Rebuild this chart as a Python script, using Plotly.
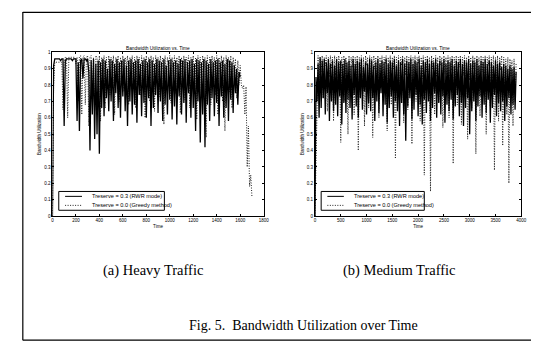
import plotly.graph_objects as go

W, H = 539, 349

# ---------------- data ----------------
heavy_step = 10
heavy_rwr = [
    0.00, 0.92, 0.96, 0.96, 0.96, 0.96, 0.96, 0.95, 0.96, 0.96,
    0.55, 0.95, 0.96, 0.96, 0.96, 0.96, 0.96, 0.95, 0.96, 0.96,
    0.96, 0.58, 0.94, 0.52, 0.95, 0.96, 0.84, 0.96, 0.96, 0.95,
    0.96, 0.88, 0.40, 0.95, 0.62, 0.96, 0.47, 0.93, 0.50, 0.95,
    0.38, 0.94, 0.66, 0.96, 0.61, 0.95, 0.72, 0.90, 0.64, 0.96,
    0.70, 0.95, 0.58, 0.93, 0.75, 0.96, 0.66, 0.94, 0.60, 0.95,
    0.73, 0.96, 0.64, 0.92, 0.55, 0.95, 0.70, 0.96, 0.62, 0.94,
    0.68, 0.95, 0.57, 0.96, 0.74, 0.93, 0.61, 0.95, 0.69, 0.96,
    0.60, 0.94, 0.72, 0.96, 0.55, 0.95, 0.66, 0.93, 0.74, 0.96,
    0.63, 0.95, 0.70, 0.94, 0.58, 0.96, 0.68, 0.92, 0.62, 0.95,
    0.71, 0.96, 0.59, 0.94, 0.67, 0.95, 0.56, 0.93, 0.73, 0.96,
    0.62, 0.95, 0.69, 0.96, 0.57, 0.94, 0.75, 0.95, 0.60, 0.96,
    0.66, 0.93, 0.52, 0.96, 0.70, 0.95, 0.45, 0.94, 0.62, 0.96,
    0.42, 0.95, 0.68, 0.93, 0.58, 0.96, 0.72, 0.94, 0.61, 0.95,
    0.69, 0.96, 0.55, 0.94, 0.73, 0.95, 0.60, 0.93, 0.66, 0.96,
    0.58, 0.95, 0.71, 0.94, 0.63, 0.92, 0.75, 0.90, 0.68, 0.88,
    0.85,
]
heavy_greedy = [
    0.00, 0.80, 0.94, 0.94, 0.94, 0.94, 0.94, 0.94, 0.94, 0.65,
    0.94, 0.97, 0.97, 0.60, 0.97, 0.97, 0.97, 0.97, 0.97, 0.97,
    0.93, 0.97, 0.70, 0.97, 0.98, 0.62, 0.97, 0.98, 0.68, 0.97,
    0.98, 0.55, 0.97, 0.98, 0.78, 0.97, 0.64, 0.98, 0.97, 0.72,
    0.98, 0.58, 0.97, 0.88, 0.98, 0.66, 0.97, 0.82, 0.98, 0.74,
    0.97, 0.86, 0.98, 0.62, 0.97, 0.90, 0.98, 0.70, 0.97, 0.84,
    0.98, 0.76, 0.97, 0.92, 0.98, 0.68, 0.97, 0.88, 0.98, 0.79,
    0.97, 0.66, 0.98, 0.90, 0.97, 0.74, 0.98, 0.85, 0.97, 0.60,
    0.98, 0.82, 0.97, 0.70, 0.98, 0.91, 0.97, 0.64, 0.98, 0.86,
    0.97, 0.73, 0.98, 0.89, 0.97, 0.56, 0.98, 0.80, 0.97, 0.92,
    0.98, 0.69, 0.97, 0.87, 0.98, 0.75, 0.97, 0.90, 0.98, 0.63,
    0.97, 0.84, 0.98, 0.71, 0.97, 0.93, 0.98, 0.66, 0.97, 0.88,
    0.98, 0.77, 0.97, 0.59, 0.98, 0.86, 0.97, 0.72, 0.98, 0.90,
    0.97, 0.48, 0.98, 0.83, 0.97, 0.68, 0.98, 0.91, 0.97, 0.74,
    0.98, 0.62, 0.97, 0.87, 0.98, 0.70, 0.97, 0.52, 0.98, 0.85,
    0.97, 0.76, 0.98, 0.66, 0.97, 0.89, 0.96, 0.72, 0.95, 0.80,
    0.92, 0.80, 0.78, 0.80, 0.62, 0.79, 0.30, 0.55, 0.18, 0.25,
    0.12,
]

medium_step = 20
medium_rwr = [
    0.00, 0.85, 0.70, 0.93, 0.60, 0.97, 0.66, 0.95, 0.72, 0.96,
    0.62, 0.94, 0.75, 0.96, 0.58, 0.93, 0.70, 0.95, 0.64, 0.92,
    0.68, 0.96, 0.61, 0.94, 0.73, 0.95, 0.56, 0.93, 0.69, 0.96,
    0.63, 0.94, 0.71, 0.95, 0.66, 0.92, 0.59, 0.96, 0.74, 0.93,
    0.67, 0.95, 0.60, 0.94, 0.72, 0.96, 0.65, 0.91, 0.76, 0.94,
    0.62, 0.93, 0.69, 0.96, 0.64, 0.95, 0.72, 0.92, 0.58, 0.94,
    0.70, 0.96, 0.63, 0.93, 0.75, 0.95, 0.61, 0.94, 0.68, 0.96,
    0.57, 0.93, 0.66, 0.95, 0.73, 0.94, 0.60, 0.96, 0.70, 0.92,
    0.64, 0.95, 0.55, 0.94, 0.69, 0.96, 0.62, 0.93, 0.46, 0.95,
    0.67, 0.94, 0.72, 0.96, 0.59, 0.93, 0.65, 0.95, 0.74, 0.94,
    0.61, 0.96, 0.68, 0.92, 0.56, 0.95, 0.71, 0.94, 0.63, 0.96,
    0.70, 0.93, 0.58, 0.95, 0.66, 0.94, 0.75, 0.96, 0.60, 0.93,
    0.69, 0.95, 0.62, 0.94, 0.73, 0.96, 0.57, 0.93, 0.68, 0.95,
    0.64, 0.94, 0.71, 0.96, 0.59, 0.92, 0.67, 0.95, 0.74, 0.94,
    0.61, 0.96, 0.69, 0.93, 0.55, 0.95, 0.66, 0.94, 0.72, 0.96,
    0.50, 0.93, 0.64, 0.95, 0.70, 0.94, 0.58, 0.96, 0.67, 0.92,
    0.73, 0.95, 0.60, 0.94, 0.68, 0.96, 0.63, 0.93, 0.71, 0.95,
    0.57, 0.94, 0.66, 0.92, 0.74, 0.95, 0.61, 0.93, 0.69, 0.94,
    0.64, 0.91, 0.70, 0.93, 0.58, 0.92, 0.67, 0.90, 0.72, 0.92,
    0.62, 0.90, 0.68, 0.91, 0.65, 0.88,
]
medium_greedy = [
    0.00, 0.30, 0.55, 0.98, 0.80, 0.97, 0.88, 0.98, 0.72, 0.97,
    0.92, 0.98, 0.64, 0.97, 0.85, 0.98, 0.90, 0.97, 0.58, 0.98,
    0.86, 0.97, 0.78, 0.98, 0.93, 0.45, 0.97, 0.82, 0.98, 0.70,
    0.97, 0.88, 0.50, 0.98, 0.76, 0.97, 0.91, 0.98, 0.62, 0.97,
    0.84, 0.98, 0.40, 0.97, 0.89, 0.98, 0.74, 0.97, 0.55, 0.98,
    0.92, 0.97, 0.66, 0.98, 0.83, 0.97, 0.48, 0.98, 0.90, 0.97,
    0.77, 0.98, 0.60, 0.97, 0.87, 0.98, 0.71, 0.97, 0.93, 0.98,
    0.52, 0.97, 0.85, 0.98, 0.68, 0.97, 0.90, 0.98, 0.35, 0.97,
    0.80, 0.98, 0.73, 0.97, 0.92, 0.98, 0.57, 0.97, 0.86, 0.98,
    0.65, 0.97, 0.89, 0.98, 0.44, 0.97, 0.81, 0.98, 0.70, 0.97,
    0.93, 0.98, 0.58, 0.97, 0.84, 0.98, 0.25, 0.97, 0.88, 0.98,
    0.76, 0.97, 0.15, 0.98, 0.90, 0.97, 0.62, 0.98, 0.85, 0.97,
    0.70, 0.98, 0.92, 0.97, 0.54, 0.98, 0.87, 0.97, 0.74, 0.98,
    0.60, 0.97, 0.89, 0.98, 0.32, 0.97, 0.82, 0.98, 0.68, 0.97,
    0.91, 0.98, 0.56, 0.97, 0.86, 0.98, 0.72, 0.97, 0.47, 0.98,
    0.83, 0.97, 0.66, 0.98, 0.90, 0.97, 0.38, 0.98, 0.79, 0.97,
    0.61, 0.98, 0.88, 0.97, 0.74, 0.98, 0.50, 0.97, 0.92, 0.98,
    0.67, 0.97, 0.84, 0.98, 0.28, 0.97, 0.80, 0.98, 0.58, 0.97,
    0.89, 0.98, 0.43, 0.97, 0.75, 0.96, 0.62, 0.97, 0.20, 0.96,
    0.85, 0.95, 0.55, 0.96, 0.70, 0.93,
]

heavy_xticks = [0, 200, 400, 600, 800, 1000, 1200, 1400, 1600, 1800]
medium_xticks = [0, 500, 1000, 1500, 2000, 2500, 3000, 3500, 4000]
y_ticks = [0, 0.1, 0.2, 0.3, 0.4, 0.5, 0.6, 0.7, 0.8, 0.9, 1]
y_ticktext = ["0", "0.1", "0.2", "0.3", "0.4", "0.5", "0.6", "0.7", "0.8", "0.9", "1"]

series_names = ["Treserve = 0.3 (RWR mode)", "Treserve = 0.0 (Greedy method)"]
plot_title = "Bandwidth Utilization vs. Time"
captions = ["(a) Heavy Traffic", "(b) Medium Traffic"]
fig_caption = "Fig. 5.  Bandwidth Utilization over Time"

# ---------------- figure ----------------
def px_x(p):
    return p / W

def px_y(p):
    return 1 - p / H

fig = go.Figure()

def times(vals, step):
    return [i * step for i in range(len(vals))]

greedy_line = dict(color="#222222", width=1, dash="1px,1.5px")
rwr_line = dict(color="black", width=1.3)

fig.add_trace(go.Scatter(x=times(heavy_greedy, heavy_step), y=heavy_greedy, mode="lines",
                         line=greedy_line, name=series_names[1], showlegend=False,
                         xaxis="x", yaxis="y"))
fig.add_trace(go.Scatter(x=times(heavy_rwr, heavy_step), y=heavy_rwr, mode="lines",
                         line=rwr_line, name=series_names[0], showlegend=False,
                         xaxis="x", yaxis="y"))
fig.add_trace(go.Scatter(x=times(medium_greedy, medium_step), y=medium_greedy, mode="lines",
                         line=greedy_line, name=series_names[1], showlegend=False,
                         xaxis="x2", yaxis="y2"))
fig.add_trace(go.Scatter(x=times(medium_rwr, medium_step), y=medium_rwr, mode="lines",
                         line=rwr_line, name=series_names[0], showlegend=False,
                         xaxis="x2", yaxis="y2"))

tickfont = dict(family="Liberation Sans, Arial", size=4.5, color="black")
common_ax = dict(showline=True, linecolor="black", linewidth=1, mirror="ticks",
                 ticks="inside", ticklen=2, tickcolor="black", tickwidth=0.8,
                 showgrid=False, zeroline=False, tickfont=tickfont)

ydom = [px_y(209), px_y(43)]
fig.update_layout(
    width=W, height=H,
    margin=dict(l=0, r=0, t=0, b=0),
    paper_bgcolor="white", plot_bgcolor="white",
    xaxis=dict(domain=[px_x(44), px_x(258)], range=[0, 1800], tickvals=heavy_xticks,
               anchor="y", title=dict(text="Time", font=tickfont, standoff=2), **common_ax),
    yaxis=dict(domain=ydom, range=[0, 1], tickvals=y_ticks, ticktext=y_ticktext,
               anchor="x", title=dict(text="Bandwidth Utilization", font=tickfont, standoff=2),
               **common_ax),
    xaxis2=dict(domain=[px_x(310), px_x(519)], range=[0, 4000], tickvals=medium_xticks,
                anchor="y2", title=dict(text="Time", font=tickfont, standoff=2), **common_ax),
    yaxis2=dict(domain=ydom, range=[0, 1], tickvals=y_ticks, ticktext=y_ticktext,
                anchor="x2", title=dict(text="Bandwidth Utilization", font=tickfont, standoff=2),
                **common_ax),
)

annotations = []
shapes = []
# subplot titles
for xr in ["x", "x2"]:
    annotations.append(dict(text=plot_title, xref=f"{xr} domain", yref="paper",
                            x=0.5, y=px_y(39), xanchor="center", yanchor="middle",
                            showarrow=False, font=dict(family="Liberation Sans, Arial", size=4.8, color="black")))

# manual legends (box, line samples, labels)
legend_font = dict(family="Liberation Sans, Arial", size=5.6, color="black")
for xr, yr in [("x", "y"), ("x2", "y2")]:
    shapes.append(dict(type="rect", xref=f"{xr} domain", yref=f"{yr} domain",
                       x0=0.03, x1=0.53, y0=0.035, y1=0.15,
                       line=dict(color="black", width=1), fillcolor="white", layer="above"))
    for i, (dash, col) in enumerate([("solid", "black"), ("1px,1.5px", "#222222")]):
        yy = 0.12 - i * 0.055
        shapes.append(dict(type="line", xref=f"{xr} domain", yref=f"{yr} domain",
                           x0=0.06, x1=0.14, y0=yy, y1=yy,
                           line=dict(color=col, width=1, dash=dash), layer="above"))
        annotations.append(dict(text=series_names[i], xref=f"{xr} domain", yref=f"{yr} domain",
                                x=0.18, y=yy, xanchor="left", yanchor="middle", showarrow=False,
                                font=legend_font))

# captions
serif = dict(family="Liberation Serif, Times New Roman, serif", size=14.5, color="black")
annotations.append(dict(text=captions[0], xref="paper", yref="paper", x=px_x(146), y=px_y(264),
                        xanchor="center", yanchor="middle", showarrow=False, font=serif))
annotations.append(dict(text=captions[1], xref="paper", yref="paper", x=px_x(396), y=px_y(264),
                        xanchor="center", yanchor="middle", showarrow=False, font=serif))
annotations.append(dict(text=fig_caption, xref="paper", yref="paper", x=px_x(298), y=px_y(320),
                        xanchor="center", yanchor="middle", showarrow=False,
                        font=dict(serif, size=14)))

# page frame of the scanned figure
frame = dict(color="black", width=1.2)
shapes.append(dict(type="line", xref="paper", yref="paper", x0=px_x(14), x1=px_x(14),
                   y0=px_y(2), y1=px_y(335), line=frame))
shapes.append(dict(type="line", xref="paper", yref="paper", x0=px_x(14), x1=px_x(537),
                   y0=px_y(335), y1=px_y(335), line=frame))
shapes.append(dict(type="line", xref="paper", yref="paper", x0=px_x(14), x1=px_x(537),
                   y0=px_y(2.5), y1=px_y(2.5), line=frame))

fig.update_layout(annotations=annotations, shapes=shapes)
fig.write_html("out.html")
